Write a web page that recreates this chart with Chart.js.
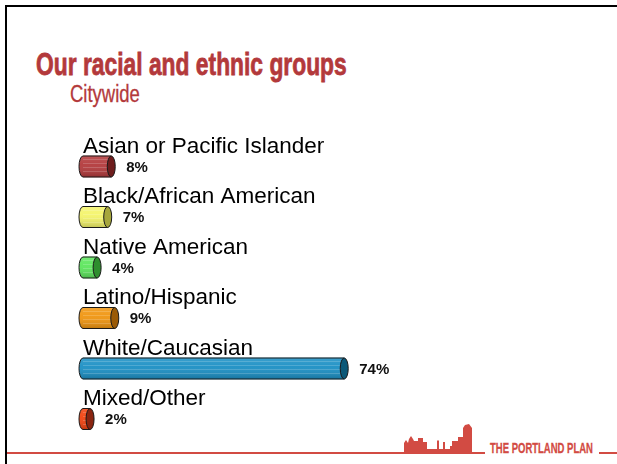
<!DOCTYPE html>
<html>
<head>
<meta charset="utf-8">
<script src="https://cdn.jsdelivr.net/npm/chart.js@4/dist/chart.umd.min.js"></script>
<style>
  body { margin: 0; background: #fff; width: 617px; height: 464px; overflow: hidden; position: relative; }
  #frame { position: absolute; left: 5px; top: 5px; right: 0; bottom: 0; border-left: 2px solid #000; border-top: 2px solid #000; }
  #box { position: absolute; left: 0; top: 0; width: 617px; height: 464px; }
  .txt { position: absolute; white-space: nowrap; line-height: 1; transform-origin: left top; font-family: "Liberation Sans Narrow", "Liberation Sans", sans-serif; }
  #title { left: 36px; top: 48px; font-size: 32px; font-weight: bold; color: #b3393b; -webkit-text-stroke: 0.8px #b3393b; }
  #subtitle { left: 70px; top: 83px; font-size: 23.5px; color: #b3393b; -webkit-text-stroke: 0.3px #b3393b; }
  #footer { left: 490px; top: 440px; font-size: 15.5px; font-weight: bold; color: #d24b43; -webkit-text-stroke: 0.3px #d24b43; }
  #deco { position: absolute; left: 0; top: 0; }
</style>
</head>
<body>
<div id="frame"></div>
<svg id="deco" width="617" height="464">
  <rect x="7" y="452" width="478" height="2" fill="#d24b43"/>
  <rect x="599" y="452" width="18" height="2" fill="#d24b43"/>
  <polygon fill="#d24b43" points="404,453 404,443 406,440 408,443 409,439 411,436 413,439 414,441 418,441 418,438 423,438 423,442 427,442 427,449 437,449 437,441 438,440 439,441 439,449 443,449 443,442 445,442 445,449 450,449 450,446 452,446 452,441 458,441 458,437 463,437 463,428 465,425 469,424 472,428 472,453"/>
</svg>
<div id="title" class="txt">Our racial and ethnic groups</div>
<div id="subtitle" class="txt">Citywide</div>
<div id="footer" class="txt">THE PORTLAND PLAN</div>
<div id="box"><canvas id="chart"></canvas></div>
<script>
const categories = ["Asian or Pacific Islander", "Black/African American", "Native American", "Latino/Hispanic", "White/Caucasian", "Mixed/Other"];
const percents = [8, 7, 4, 9, 74, 2];
const bodyColors = ["#b3393b", "#f4f46a", "#5ce65c", "#f0950f", "#1a8fc4", "#f2420f"];
const capColors = ["#6e1d1d", "#a6a63c", "#2e8e2e", "#9a5a06", "#0b5878", "#8a2410"];

function fitWidth(id, w) {
  const el = document.getElementById(id);
  el.style.transform = "scaleX(" + (w / el.offsetWidth) + ")";
}
fitWidth("title", 311);
fitWidth("subtitle", 70);
fitWidth("footer", 103);

// 3d cylinder ends, outline and value text on each bar
const cylinders = {
  id: "cylinders",
  afterDatasetsDraw(chart) {
    const ctx = chart.ctx;
    chart.getDatasetMeta(0).data.forEach((bar, i) => {
      const { x, y, base, height } = bar.getProps(["x", "y", "base", "height"], true);
      const top = y - height / 2, rx = 4, ry = height / 2;
      ctx.save();
      ctx.fillStyle = bodyColors[i];
      ctx.beginPath();
      ctx.ellipse(base, y, rx, ry, 0, Math.PI / 2, Math.PI * 1.5);
      ctx.fill();

      const g = ctx.createLinearGradient(0, top, 0, top + height);
      g.addColorStop(0, "rgba(255,255,255,0.15)");
      g.addColorStop(0.4, "rgba(255,255,255,0.05)");
      g.addColorStop(1, "rgba(0,0,0,0.2)");
      ctx.fillStyle = g;
      ctx.beginPath();
      ctx.ellipse(base, y, rx, ry, 0, Math.PI / 2, Math.PI * 1.5);
      ctx.lineTo(x, top);
      ctx.lineTo(x, top + height);
      ctx.closePath();
      ctx.fill();

      ctx.strokeStyle = "rgba(255,255,255,0.18)";
      ctx.lineWidth = 1;
      ctx.beginPath();
      for (let k = 3; k < height - 2; k += 4) {
        ctx.moveTo(base, Math.round(top + k) + 0.5);
        ctx.lineTo(x, Math.round(top + k) + 0.5);
      }
      ctx.stroke();

      ctx.strokeStyle = "#1a1a1a";
      ctx.beginPath();
      ctx.moveTo(x, top);
      ctx.lineTo(base, top);
      ctx.ellipse(base, y, rx, ry, 0, Math.PI * 1.5, Math.PI / 2, true);
      ctx.lineTo(x, top + height);
      ctx.stroke();

      ctx.fillStyle = capColors[i];
      ctx.beginPath();
      ctx.ellipse(x, y, rx, ry, 0, 0, Math.PI * 2);
      ctx.fill();
      ctx.stroke();

      ctx.fillStyle = "#111";
      ctx.font = "bold 15px 'Liberation Sans'";
      ctx.textBaseline = "middle";
      ctx.textAlign = "left";
      ctx.fillText(percents[i] + "%", x + rx + 11, y + 1);
      ctx.restore();
    });
  }
};

new Chart(document.getElementById("chart"), {
  type: "bar",
  data: {
    labels: categories,
    datasets: [{
      data: percents,
      backgroundColor: bodyColors,
      borderWidth: 0,
      barThickness: 21
    }]
  },
  options: {
    indexAxis: "y",
    responsive: true,
    maintainAspectRatio: false,
    animation: false,
    layout: { padding: { left: 83, right: 181, top: 141.25, bottom: 19.75 } },
    plugins: { legend: { display: false }, tooltip: { enabled: false } },
    scales: {
      x: { display: false, min: 0, max: 100 },
      y: {
        grid: { display: false, drawTicks: false },
        border: { display: false },
        ticks: {
          mirror: true,
          padding: 0,
          labelOffset: -20,
          autoSkip: false,
          color: "#000",
          font: { family: "'Liberation Sans'", size: 22.5 }
        }
      }
    }
  },
  plugins: [cylinders]
});
</script>
</body>
</html>
